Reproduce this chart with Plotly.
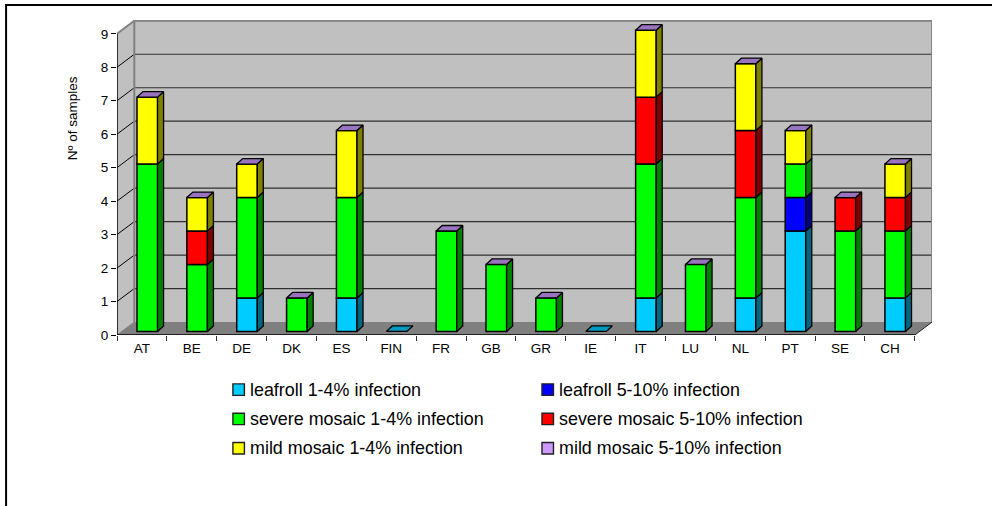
import plotly.graph_objects as go

# ---- data ----
countries = ["AT", "BE", "DE", "DK", "ES", "FIN", "FR", "GB", "GR", "IE", "IT", "LU", "NL", "PT", "SE", "CH"]
leafroll_low = [0, 0, 1, 0, 1, 0, 0, 0, 0, 0, 1, 0, 1, 3, 0, 1]
leafroll_high = [0, 0, 0, 0, 0, 0, 0, 0, 0, 0, 0, 0, 0, 1, 0, 0]
severe_low = [5, 2, 3, 1, 3, 0, 3, 2, 1, 0, 4, 2, 3, 1, 3, 2]
severe_high = [0, 1, 0, 0, 0, 0, 0, 0, 0, 0, 2, 0, 2, 0, 1, 1]
mild_low = [2, 1, 1, 0, 2, 0, 0, 0, 0, 0, 2, 0, 2, 1, 0, 1]
mild_high = [0, 0, 0, 0, 0, 0, 0, 0, 0, 0, 0, 0, 0, 0, 0, 0]
y_ticks = [0, 1, 2, 3, 4, 5, 6, 7, 8, 9]

names = ["leafroll 1-4% infection", "leafroll 5-10% infection",
         "severe mosaic 1-4% infection", "severe mosaic 5-10% infection",
         "mild mosaic 1-4% infection", "mild mosaic 5-10% infection"]
series = [leafroll_low, leafroll_high, severe_low, severe_high, mild_low, mild_high]
front = ["#00CCFF", "#0000FF", "#00FF00", "#FF0000", "#FFFF00", "#CC99FF"]
side = ["#006680", "#000080", "#008000", "#800000", "#808000", "#664C80"]
top_main = "#9973BF"
top_empty = "#0099BF"

# ---- layout geometry (page pixels) ----
W, H = 992, 506
L, R = 116.7, 932.3
T, B = 20.0, 335.3
cat_px = 49.9
unit_px = 33.5
n = len(countries)
xmax = (R - L) / cat_px - 0.5
ymax = (B - T) / unit_px
wall_dx = 17.3 / cat_px
wall_dy = 13.0 / unit_px
bar_dx = 6.0 / cat_px
bar_dy = 5.5 / unit_px
bar_lift = 3.6 / unit_px
bar_w = 20.6 / cat_px
bar_left = 20.0 / cat_px - 0.5


def px(x):
    return (x - L) / (R - L)


def py(y):
    return (B - y) / (B - T)


def path(pts):
    return "M" + " L".join(f"{a:.4f},{b:.4f}" for a, b in pts) + " Z"


fig = go.Figure()

# cumulative stack bases
bases = []
run = [0] * n
for s in series:
    bases.append(list(run))
    run = [a + b for a, b in zip(run, s)]
totals = run

# front faces
for s, b, name, col in zip(series, bases, names, front):
    fig.add_trace(go.Bar(
        x=countries,
        y=[v if v else None for v in s],
        base=[a + bar_lift for a in b],
        name=name, width=bar_w, offset=bar_left,
        marker=dict(color=col, line=dict(color="#000000", width=1.5)),
        showlegend=False, hoverinfo="skip", xaxis="x", yaxis="y",
    ))

# side faces
for s, b, name, col in zip(series, bases, names, side):
    xs, ys = [], []
    for i, (v, a) in enumerate(zip(s, b)):
        if not v:
            continue
        x1 = i + bar_left + bar_w
        y0, y1 = a + bar_lift, a + v + bar_lift
        xs += [x1, x1 + bar_dx, x1 + bar_dx, x1, x1, None]
        ys += [y0, y0 + bar_dy, y1 + bar_dy, y1, y0, None]
    if xs:
        fig.add_trace(go.Scatter(
            x=xs, y=ys, mode="lines", fill="toself", fillcolor=col,
            line=dict(color="#000000", width=1.3), name=name + " side",
            showlegend=False, hoverinfo="skip", xaxis="x2", yaxis="y",
        ))

# top faces
for cond, col in ((lambda t: t > 0, top_main), (lambda t: t == 0, top_empty)):
    xs, ys = [], []
    for i, t in enumerate(totals):
        if not cond(t):
            continue
        x0 = i + bar_left
        x1 = x0 + bar_w
        y0 = t + bar_lift
        xs += [x0, x1, x1 + bar_dx, x0 + bar_dx, x0, None]
        ys += [y0, y0, y0 + bar_dy, y0 + bar_dy, y0, None]
    fig.add_trace(go.Scatter(
        x=xs, y=ys, mode="lines", fill="toself", fillcolor=col,
        line=dict(color="#000000", width=1.3), name="top",
        showlegend=False, hoverinfo="skip", xaxis="x2", yaxis="y",
    ))

shapes = []
x_front0, x_front1 = -0.5, n - 0.5
x_back0, x_back1 = x_front0 + wall_dx, x_front1 + wall_dx


def add(kind, layer="below", **kw):
    shapes.append(dict(type=kind, xref="x2", yref="y", layer=layer, **kw))


# walls and floor
top_v = y_ticks[-1]
add("path", path=path([(x_back0, wall_dy), (x_back1, wall_dy), (x_back1, top_v + wall_dy), (x_back0, top_v + wall_dy)]),
    fillcolor="#C0C0C0", line=dict(width=0))
add("path", path=path([(x_front0, 0), (x_back0, wall_dy), (x_back0, top_v + wall_dy), (x_front0, top_v)]),
    fillcolor="#C0C0C0", line=dict(width=0))
add("path", path=path([(x_front0, 0), (x_front1, 0), (x_back1, wall_dy), (x_back0, wall_dy)]),
    fillcolor="#808080", line=dict(width=0))
# gridlines
for v in y_ticks[1:-1]:
    add("line", x0=x_back0, x1=x_back1, y0=v + wall_dy, y1=v + wall_dy, line=dict(color="#303030", width=1.2))
    add("line", x0=x_front0, x1=x_back0, y0=v, y1=v + wall_dy, line=dict(color="#000000", width=1))
# wall outline
grey = dict(color="#808080", width=2)
add("line", x0=x_back0, x1=x_back1, y0=top_v + wall_dy, y1=top_v + wall_dy, line=grey)
add("line", x0=x_front0, x1=x_back0, y0=top_v, y1=top_v + wall_dy, line=grey)
add("line", x0=x_back0, x1=x_back0, y0=wall_dy, y1=top_v + wall_dy, line=grey)
add("line", x0=x_back1, x1=x_back1, y0=wall_dy, y1=top_v + wall_dy, line=grey)
add("line", x0=x_front0, x1=x_back0, y0=0, y1=wall_dy, line=dict(color="#808080", width=1))
add("line", x0=x_front1, x1=x_back1, y0=0, y1=wall_dy, line=dict(color="#202020", width=1))
# axis lines
axis_line = dict(color="#000000", width=1.5)
add("line", layer="above", x0=x_front0, x1=x_front0, y0=0, y1=top_v, line=axis_line)
add("line", layer="above", x0=x_front0, x1=x_front1, y0=0, y1=0, line=axis_line)

# outer frame (bottom and right edges fall outside the page)
shapes.append(dict(type="rect", xref="paper", yref="paper",
                   x0=px(5.7), x1=px(W + 20), y0=py(5.0), y1=py(H + 20),
                   line=dict(color="#000000", width=2), layer="below"))

# hand-placed legend so swatch and text spacing follow the picture
annotations = []
legend_cols = [(232.7, 249.0), (542.0, 558.3)]
legend_rows = [390.0, 419.3, 448.7]
swatch = 11.5
for k, (name, col) in enumerate(zip(names, front)):
    sx, tx = legend_cols[k % 2]
    ry = legend_rows[k // 2]
    shapes.append(dict(type="rect", xref="paper", yref="paper",
                       x0=px(sx), x1=px(sx + swatch), y0=py(ry - swatch / 2), y1=py(ry + swatch / 2),
                       fillcolor=col, line=dict(color="#202020", width=1.4)))
    annotations.append(dict(xref="paper", yref="paper", x=px(tx), y=py(ry), text=name,
                            showarrow=False, xanchor="left", yanchor="middle", align="left",
                            font=dict(size=17.9, color="#000000"), xshift=-1))

annotations.append(dict(xref="paper", yref="paper", x=px(71.5), y=py(118.4), text="Nº of samples", textangle=-90,
                        showarrow=False, xanchor="center", yanchor="middle",
                        font=dict(size=13.5, color="#000000")))

fig.update_layout(
    width=W, height=H,
    margin=dict(l=L, r=W - R, t=T, b=H - B, pad=0, autoexpand=False),
    paper_bgcolor="#FFFFFF", plot_bgcolor="rgba(0,0,0,0)",
    barmode="overlay", showlegend=False,
    font=dict(family="Liberation Sans, Arial, sans-serif", color="#000000", size=13.5),
    xaxis=dict(type="category", categoryorder="array", categoryarray=countries, tickson="boundaries",
               range=[-0.5, xmax], showgrid=False, zeroline=False, showline=False,
               ticks="outside", ticklen=5, tickwidth=1, tickcolor="#303030", tickangle=0,
               ticklabelstandoff=3, tickfont=dict(size=13.5), fixedrange=True),
    xaxis2=dict(overlaying="x", type="linear", range=[-0.5, xmax], visible=False, fixedrange=True, anchor="y"),
    yaxis=dict(range=[0, ymax], tickvals=y_ticks, showgrid=False, zeroline=False, showline=False,
               ticks="outside", ticklen=5, tickwidth=1.2, tickcolor="#000000",
               tickfont=dict(size=13.5), fixedrange=True),
    shapes=shapes, annotations=annotations,
)

fig.write_html("out.html", config=dict(displayModeBar=False),
               post_script="document.body.style.margin='0';document.body.style.overflow='hidden';")
